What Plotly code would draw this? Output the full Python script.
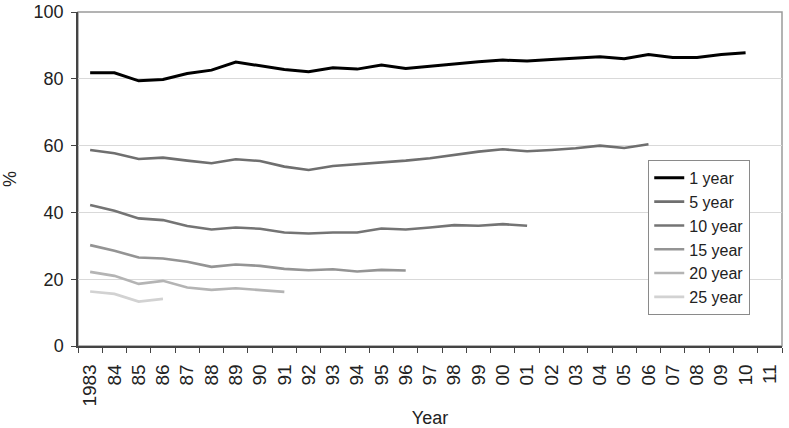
import plotly.graph_objects as go

years = ["1983"] + [f"{y % 100:02d}" for y in range(1984, 2012)]

one_year = [81.8, 81.8, 79.4, 79.8, 81.6, 82.6, 85.0, 83.8, 82.8, 82.1, 83.3, 82.9, 84.1, 83.1,
            83.8, 84.6, 85.1, 85.6, 85.3, 85.8, 86.1, 86.6, 86.0, 87.3, 86.4, 86.4, 87.3, 87.8]
five_year = [58.7, 57.7, 56.0, 56.4, 55.5, 54.7, 55.9, 55.4, 53.7, 52.7, 53.9, 54.4, 55.0, 55.5,
             56.2, 57.3, 58.2, 58.9, 58.3, 58.7, 59.2, 60.0, 59.3, 60.4]
ten_year = [42.2, 40.5, 38.2, 37.7, 35.9, 34.9, 35.5, 35.1, 34.0, 33.7, 34.0, 34.0, 35.2, 34.9,
            35.5, 36.2, 36.0, 36.5, 36.0]
fifteen_year = [30.2, 28.5, 26.5, 26.2, 25.2, 23.7, 24.4, 24.0, 23.1, 22.7, 23.0, 22.3, 22.8, 22.6]
twenty_year = [22.2, 21.0, 18.6, 19.5, 17.5, 16.8, 17.3, 16.8, 16.2]
twentyfive_year = [16.3, 15.6, 13.3, 14.1]

series = [
    ("1 year", one_year, "#000000", 3),
    ("5 year", five_year, "#6f6f6f", 2.6),
    ("10 year", ten_year, "#747474", 2.6),
    ("15 year", fifteen_year, "#949494", 2.6),
    ("20 year", twenty_year, "#b4b4b4", 2.6),
    ("25 year", twentyfive_year, "#d2d2d2", 2.6),
]

font_family = "Liberation Sans, Arial, sans-serif"

fig = go.Figure()
for name, vals, color, w in series:
    fig.add_trace(go.Scatter(
        x=years[:len(vals)], y=vals, name=name, mode="lines",
        line=dict(color=color, width=w),
    ))

fig.update_layout(
    width=789, height=428,
    margin=dict(l=78, r=7, t=12, b=82, autoexpand=False),
    plot_bgcolor="white", paper_bgcolor="white",
    font=dict(family=font_family, size=17, color="#222222"),
    showlegend=True,
    legend=dict(
        x=0.81, y=0.557, xanchor="left", yanchor="top",
        bordercolor="#8a8a8a", borderwidth=1, bgcolor="white",
        font=dict(size=16, color="#222222"),
        tracegroupgap=0,
    ),
    shapes=[dict(type="rect", xref="paper", yref="paper", x0=0, x1=1, y0=0, y1=1,
                 line=dict(color="#9a9a9a", width=1.5), layer="below")],
)

fig.update_xaxes(
    type="category", categoryorder="array", categoryarray=years,
    tickvals=years, ticktext=years,
    range=[-0.5, len(years) - 0.5],
    tickangle=-90, tickson="boundaries",
    ticks="outside", ticklen=5, tickcolor="#444444",
    showline=True, linecolor="#444444", linewidth=1.5,
    showgrid=False, automargin=False,
    ticklabelstandoff=9,
    title=dict(text="Year", font=dict(size=18), standoff=7),
    tickfont=dict(size=19),
)
fig.update_yaxes(
    range=[0, 100], tickvals=[0, 20, 40, 60, 80, 100],
    ticks="outside", ticklen=5, tickcolor="#444444",
    showline=True, linecolor="#444444", linewidth=1.5,
    showgrid=True, gridcolor="#d9d9d9", gridwidth=1.2,
    zeroline=False, automargin=False,
    ticklabelstandoff=4,
    title=dict(text="%", font=dict(size=18), standoff=12),
    tickfont=dict(size=18),
)

fig.write_html(
    "out.html",
    config={"displayModeBar": False},
    post_script="document.body.style.margin='0';document.body.style.overflow='hidden';",
)
